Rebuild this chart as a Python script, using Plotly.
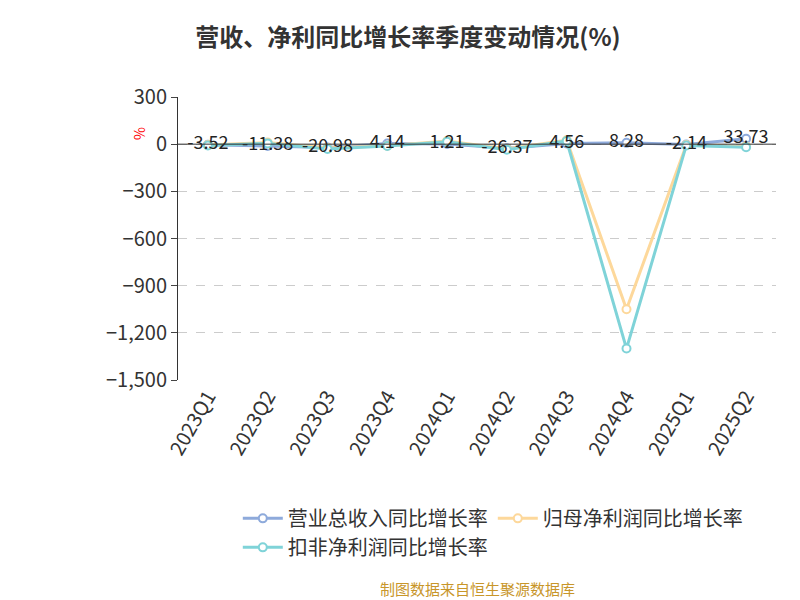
import plotly.graph_objects as go

quarters = ['2023Q1', '2023Q2', '2023Q3', '2023Q4', '2024Q1', '2024Q2', '2024Q3', '2024Q4', '2025Q1', '2025Q2']
revenue_yoy = [-3.52, -11.38, -20.98, 4.14, 1.21, -26.37, 4.56, 8.28, -2.14, 33.73]
net_profit_yoy = [-5, 10, -25, -10, 20, -30, 25, -1050, -5, -15]
deducted_profit_yoy = [-8, 5, -30, -12, 15, -35, 20, -1300, -8, -20]

font = 'Noto Sans CJK SC'
fig = go.Figure()
series = [
    ('营业总收入同比增长率', revenue_yoy, '#8eaadb'),
    ('归母净利润同比增长率', net_profit_yoy, '#fdd89b'),
    ('扣非净利润同比增长率', deducted_profit_yoy, '#7fd3d8'),
]
for name, vals, color in series:
    fig.add_trace(go.Scatter(
        x=quarters, y=vals, name=name, mode='lines+markers',
        line=dict(color=color, width=3),
        marker=dict(size=8, color='white', line=dict(color=color, width=2)),
    ))

fig.add_trace(go.Scatter(
    x=quarters, y=revenue_yoy, mode='text', showlegend=False,
    text=[f'{v:.2f}' for v in revenue_yoy], textposition='middle center',
    textfont=dict(size=18, color='#222', family=font), hoverinfo='skip',
))

fig.update_layout(
    width=800, height=600, plot_bgcolor='white', paper_bgcolor='white',
    font=dict(family=font, color='#333'),
    title=dict(text='<b>营收、净利同比增长率季度变动情况(%)</b>', x=0.5, y=0.965,
               xanchor='center', font=dict(size=24, color='#333')),
    margin=dict(l=170, r=32, t=89, b=228),
    legend=dict(orientation='h', x=0.1, y=-0.42, xanchor='left', yanchor='top',
                font=dict(size=20, color='#333'), itemwidth=40, tracegroupgap=0),
    xaxis=dict(type='category', tickangle=-60, tickfont=dict(size=20, color='#333'),
               showgrid=False, zeroline=False, showline=False, ticks='',
               range=[-0.5, 9.5]),
    yaxis=dict(range=[-1500, 300], tickvals=[300, 0, -300, -600, -900, -1200, -1500],
               tickformat=',', tickfont=dict(size=20, color='#333'),
               showline=True, linecolor='#333', linewidth=1, ticks='outside', ticklen=6,
               showgrid=True, gridcolor='#ccc', griddash='dash', zeroline=False),
    annotations=[
        dict(text='%', x=-0.085, y=0.08 + 0.82, xref='paper', yref='paper', showarrow=False,
             font=dict(size=14, color='red'), textangle=-90),
        dict(text='制图数据来自恒生聚源数据库', x=0.5, y=10, xref='paper', yref='paper', showarrow=False,
             font=dict(size=15, color='#c8962a'), yanchor='bottom'),
    ],
)
fig.add_hline(y=0, line=dict(color='#333', width=1))
fig.layout.annotations[1].update(y=-0.78)
fig.write_html('out.html')
